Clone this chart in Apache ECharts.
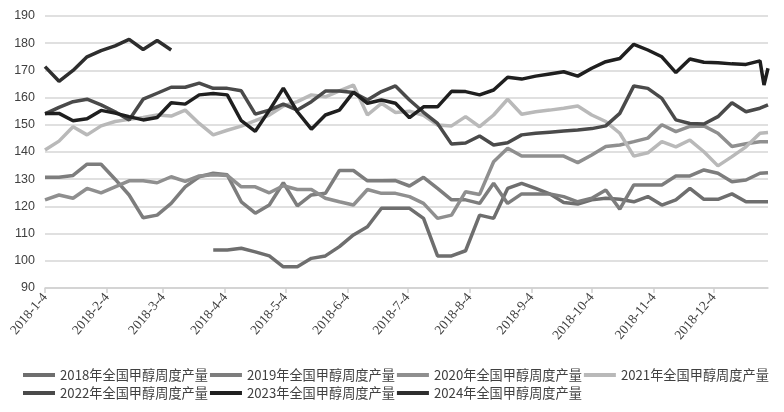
<!DOCTYPE html>
<html>
<head>
<meta charset="utf-8">
<script src="https://cdn.jsdelivr.net/npm/echarts@6/dist/echarts.min.js"></script>
<style>
html,body{margin:0;padding:0;background:#fff;}
#chart{width:784px;height:412px;}
</style>
</head>
<body>
<div id="chart"></div>
<script>
// Weekly report dates (plotted on a 2018 calendar axis)
const dates = [
  '2018-01-04','2018-01-11','2018-01-18','2018-01-25','2018-02-01','2018-02-08','2018-02-15','2018-02-22',
  '2018-03-01','2018-03-08','2018-03-15','2018-03-22','2018-03-29','2018-04-05','2018-04-12','2018-04-19',
  '2018-04-26','2018-05-03','2018-05-10','2018-05-17','2018-05-24','2018-05-31','2018-06-07','2018-06-14',
  '2018-06-21','2018-06-28','2018-07-05','2018-07-12','2018-07-19','2018-07-26','2018-08-02','2018-08-09',
  '2018-08-16','2018-08-23','2018-08-30','2018-09-06','2018-09-13','2018-09-20','2018-09-27','2018-10-04',
  '2018-10-11','2018-10-18','2018-10-25','2018-11-01','2018-11-08','2018-11-15','2018-11-22','2018-11-29',
  '2018-12-06','2018-12-13','2018-12-20','2018-12-27','2018-12-29','2018-12-31'
];
const tickLabels = ['2018-1-4','2018-2-4','2018-3-4','2018-4-4','2018-5-4','2018-6-4',
  '2018-7-4','2018-8-4','2018-9-4','2018-10-4','2018-11-4','2018-12-4'];
const yTicks = [90, 100, 110, 120, 130, 140, 150, 160, 170, 180, 190];
const seriesNames = ['2018年全国甲醇周度产量','2019年全国甲醇周度产量','2020年全国甲醇周度产量',
  '2021年全国甲醇周度产量','2022年全国甲醇周度产量','2023年全国甲醇周度产量','2024年全国甲醇周度产量'];
const colors = ['#6e6e6e','#7d7d7d','#8f8f8f','#b9b9b9','#4a4a4a','#1f1f1f','#2e2e2e'];

const v2018 = [null,null,null,null,null,null,null,null,null,null,null,null,
  104.0,104.0,104.6,103.3,101.8,97.8,97.8,100.9,101.8,105.2,109.5,112.5,119.3,119.3,119.3,115.6,101.8,101.8,
  103.7,116.8,115.6,126.6,128.5,126.6,124.6,121.4,120.9,122.4,123.0,122.6,121.7,123.6,120.5,122.4,126.6,122.6,
  122.6,124.6,121.7,121.7,null,121.7];
const v2019 = [130.7,130.7,131.4,135.5,135.5,130.0,124.2,115.8,116.8,121.1,127.2,130.9,132.2,131.6,121.7,117.5,
  120.5,128.7,120.2,124.2,124.8,133.2,133.2,129.4,129.4,129.5,127.5,130.7,126.6,122.4,122.4,121.1,128.5,121.1,
  124.6,124.6,124.6,123.6,121.7,123.0,126.0,119.0,127.9,127.9,127.9,131.2,131.2,133.4,132.2,129.1,129.7,132.2,
  null,132.4];
const v2020 = [122.4,124.2,123.0,126.6,125.0,127.2,129.4,129.4,128.7,130.9,129.2,131.2,131.6,131.4,127.2,127.2,
  125.0,127.6,126.2,126.2,123.0,121.7,120.5,126.2,124.8,124.8,123.6,121.1,115.6,116.8,125.4,124.4,136.4,141.4,
  138.5,138.5,138.5,138.5,136.1,138.9,142.0,142.6,143.8,145.1,150.0,147.5,149.4,149.6,146.9,142.0,143.0,143.8,
  null,143.8];
const v2021 = [140.7,144.0,149.3,146.3,149.6,151.2,152.0,152.7,153.6,153.2,155.4,150.5,146.3,148.0,149.5,151.5,
  153.6,156.9,158.5,161.0,160.3,162.5,164.6,153.6,157.9,154.5,155.0,153.5,149.9,149.6,153.0,149.3,153.6,159.4,
  153.9,154.8,155.4,156.1,156.9,153.6,151.2,146.9,138.5,139.7,143.8,141.9,144.4,140.1,134.9,138.3,141.9,146.9,
  null,147.2];
const v2022 = [154.0,156.4,158.5,159.4,157.3,154.8,151.8,159.4,161.6,163.8,163.8,165.3,163.4,163.4,162.5,153.9,
  155.4,157.6,155.4,158.5,162.4,162.4,161.9,159.1,162.2,164.3,159.1,154.6,150.5,142.9,143.3,145.9,142.6,143.4,
  146.3,146.9,147.3,147.7,148.1,148.6,149.6,154.2,164.3,163.4,159.7,151.8,150.5,150.3,153.0,158.1,154.8,156.1,
  null,157.3];
const v2023 = [154.2,154.2,151.5,152.2,155.3,154.3,153.0,151.8,152.7,158.1,157.6,161.0,161.5,161.0,151.5,147.6,
  155.3,163.5,154.8,148.4,153.6,155.4,162.0,157.9,159.1,157.9,152.6,156.6,156.6,162.3,162.2,161.0,162.8,167.5,
  166.8,167.9,168.7,169.5,167.9,170.8,173.2,174.4,179.6,177.5,175.0,169.2,174.2,173.0,172.8,172.4,172.2,173.5,
  164.6,170.8];
const v2024 = [171.4,166.0,170.0,175.0,177.3,179.0,181.4,177.7,181.0,177.5];

const allValues = [v2018, v2019, v2020, v2021, v2022, v2023, v2024];

// convert a date string to a day offset from the first date (calendar position on the axis)
function dayUTC(str) {
  const p = str.split('-').map(Number);
  return Date.UTC(p[0], p[1] - 1, p[2]) / 86400000;
}
const day0 = dayUTC(dates[0]);
const xDays = dates.map(d => dayUTC(d) - day0);
const tickDays = tickLabels.map(l => dayUTC(l) - day0);
const labelMap = {};
tickLabels.forEach((l, i) => { labelMap[tickDays[i]] = l; });

const chart = echarts.init(document.getElementById('chart'), null, {renderer: 'canvas'});
const option = {
  animation: false,
  backgroundColor: '#ffffff',
  color: colors,
  grid: {left: 45, right: 16, top: 16, bottom: 124, containLabel: false},
  legend: {
    left: 23, right: 6, top: 367,
    itemWidth: 32, itemHeight: 4, itemGap: 2,
    icon: 'rect',
    padding: 0,
    textStyle: {fontFamily: '"Noto Sans CJK SC", sans-serif', fontSize: 13.2, color: '#404040', lineHeight: 16},
    data: seriesNames
  },
  xAxis: {
    type: 'value',
    min: xDays[0],
    max: xDays[xDays.length - 1],
    axisLine: {show: true, lineStyle: {color: '#d0d0d0', width: 1.5}},
    axisTick: {show: true, customValues: tickDays, length: 5, lineStyle: {color: '#d0d0d0', width: 1.5}},
    splitLine: {show: false},
    axisLabel: {
      customValues: tickDays,
      rotate: 50,
      margin: 7,
      fontFamily: '"Liberation Serif", serif',
      fontSize: 13.5,
      color: '#404040',
      formatter: function (val) { return labelMap[val] || ''; }
    }
  },
  yAxis: {
    type: 'value',
    min: yTicks[0], max: yTicks[yTicks.length - 1], interval: 10,
    axisLine: {show: false},
    axisTick: {show: false},
    splitLine: {show: true, lineStyle: {color: '#d6d6d6', width: 1.5}},
    axisLabel: {margin: 10, fontFamily: '"Liberation Sans", sans-serif', fontSize: 12.5, color: '#404040'}
  },
  series: seriesNames.map((name, si) => ({
    name: name,
    type: 'line',
    symbol: 'none',
    connectNulls: true,
    lineStyle: {width: 3.5, color: colors[si]},
    itemStyle: {color: colors[si]},
    data: xDays.map((x, i) => [x, allValues[si][i] === undefined ? null : allValues[si][i]])
  }))
};
chart.setOption(option);
</script>
</body>
</html>
